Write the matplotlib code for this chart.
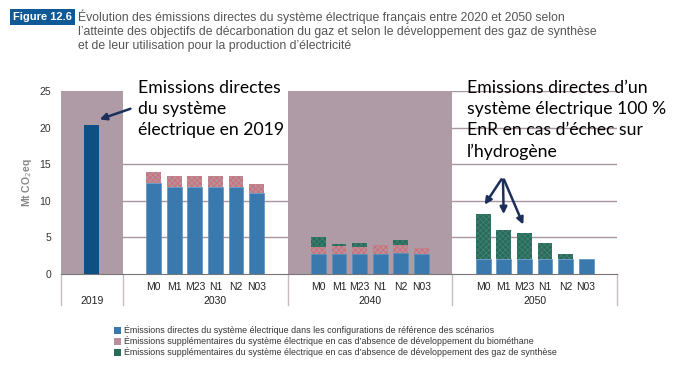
import numpy as np
import matplotlib
matplotlib.use("Agg")
import matplotlib.pyplot as plt
from matplotlib.patches import Rectangle

# data (Mt CO2eq)
years = ["2019", "2030", "2040", "2050"]
scenarios = ["M0", "M1", "M23", "N1", "N2", "N03"]
val_2019 = 20.4
base_2030 = [12.4, 11.9, 11.9, 11.9, 11.9, 11.0]
bio_2030 = [1.6, 1.5, 1.5, 1.5, 1.5, 1.3]
syn_2030 = [0.0, 0.0, 0.0, 0.0, 0.0, 0.0]
base_2040 = [2.7, 2.8, 2.75, 2.75, 2.9, 2.7]
bio_2040 = [1.0, 1.0, 0.95, 1.15, 1.1, 0.9]
syn_2040 = [1.4, 0.3, 0.6, 0.0, 0.6, 0.0]
base_2050 = [2.0, 2.0, 2.0, 2.0, 2.0, 2.0]
bio_2050 = [0.1, 0.1, 0.1, 0.1, 0.1, 0.05]
syn_2050 = [6.05, 3.9, 3.45, 2.1, 0.7, 0.0]
legend_labels = [
    "Émissions directes du système électrique dans les configurations de référence des scénarios",
    "Émissions supplémentaires du système électrique en cas d’absence de développement du biométhane",
    "Émissions supplémentaires du système électrique en cas d’absence de développement des gaz de synthèse",
]

blue = "#3A79AE"
dark_blue = "#0E4F84"
mauve = "#AE9BA6"
grid_c = "#A894A3"
sep_c = "#C9BCC6"
pink_face = "#B98F9E"
pink_hatch = "#D06A6A"
green_face = "#2A6A5C"
green_hatch = "#3F8573"
arrow_c = "#1C2E5A"

plt.rcParams["font.family"] = ["Liberation Sans", "DejaVu Sans"]
plt.rcParams["hatch.linewidth"] = 0.5

fig = plt.figure(figsize=(7, 3.79), dpi=100)
ax = fig.add_axes([61 / 700, 105 / 379, 556 / 700, 183 / 379])

# shaded bands for 2019 and 2040
ax.axvspan(-0.5, 2.5, color=mauve, zorder=1, lw=0)
ax.axvspan(10.5, 18.5, color=mauve, zorder=1, lw=0)
for g in [5, 10, 15, 20, 25]:
    ax.axhline(g, color=grid_c, lw=1, zorder=0.5)
# white box behind the 2019 note (hides gridlines in the 2030 area)
ax.add_patch(Rectangle((2.5, 15.4), 8, 10.5, facecolor="white", edgecolor="none",
                       zorder=0.8, clip_on=False))

w = 0.72
ax.bar([1], [val_2019], width=w, color=dark_blue, zorder=3)

groups = [(4, base_2030, bio_2030, syn_2030),
          (12, base_2040, bio_2040, syn_2040),
          (20, base_2050, bio_2050, syn_2050)]
for start, base, bio, syn in groups:
    x = np.arange(start, start + 6)
    base = np.array(base)
    bio = np.array(bio)
    syn = np.array(syn)
    ax.bar(x, base, width=w, color=blue, edgecolor="#5A8FBE", lw=0.5, zorder=3)
    ax.bar(x, bio, bottom=base, width=w, facecolor=pink_face,
           edgecolor=pink_hatch, hatch="xxxxxx", lw=0, zorder=3)
    ax.bar(x, syn, bottom=base + bio, width=w, facecolor=green_face,
           edgecolor=green_hatch, hatch="xxxxxx", lw=0, zorder=3)

ax.set_xlim(-0.5, 26.5)
ax.set_ylim(0, 25)
ax.set_yticks([0, 5, 10, 15, 20, 25])
ax.tick_params(axis="y", length=0, labelsize=7.5, labelcolor="#333333", pad=7)
ticks = list(range(4, 10)) + list(range(12, 18)) + list(range(20, 26))
ax.set_xticks(ticks)
ax.set_xticklabels(scenarios * 3, fontsize=7.5, color="#222222")
ax.tick_params(axis="x", length=0, pad=6)
for s in ["top", "right", "left"]:
    ax.spines[s].set_visible(False)
ax.spines["bottom"].set_color("#777777")
ax.set_ylabel("Mt CO$_2$eq", fontsize=7.5, color="#888888", fontweight="bold", labelpad=4)

# group labels and separators
for xs in [-0.5, 2.5, 10.5, 18.5, 26.5]:
    ax.plot([xs, xs], [0, -0.17], color=sep_c, lw=1, clip_on=False,
            transform=ax.get_xaxis_transform())
for yr, xc in zip(years, [1, 7, 14.5, 22.5]):
    ax.text(xc, -0.145, yr, transform=ax.get_xaxis_transform(), ha="center",
            va="center", fontsize=7.5, color="#222222")

# annotations
ax.text(3.25, 26.5, "Emissions directes\ndu système\nélectrique en 2019",
        fontsize=12.7, family="Lato", va="top", ha="left", linespacing=1.4, zorder=5)
ax.annotate("", xy=(1.25, 21.0), xytext=(3.0, 22.7),
            arrowprops=dict(arrowstyle="-|>", color=arrow_c, lw=1.8, mutation_scale=10),
            zorder=6)
ax.text(19.2, 26.5, "Emissions directes d’un\nsystème électrique 100 %\nEnR en cas d’échec sur\nl’hydrogène",
        fontsize=12.7, family="Lato", va="top", ha="left", linespacing=1.4, zorder=5)
for tx, ty in [(20.0, 9.15), (21.0, 7.8), (22.0, 6.4)]:
    ax.annotate("", xy=(tx, ty), xytext=(20.96, 13.25),
                arrowprops=dict(arrowstyle="-|>", color=arrow_c, lw=1.8, mutation_scale=10),
                zorder=6)

# title
fig.text(13 / 700, 1 - 17 / 379, "Figure 12.6", fontsize=8, color="white",
         fontweight="bold", va="center", ha="left",
         bbox=dict(facecolor="#0F5A96", edgecolor="none", pad=2.5))
fig.text(78 / 700, 1 - 10 / 379,
         "Évolution des émissions directes du système électrique français entre 2020 et 2050 selon\n"
         "l’atteinte des objectifs de décarbonation du gaz et selon le développement des gaz de synthèse\n"
         "et de leur utilisation pour la production d’électricité",
         fontsize=8.8, color="#555555", va="top", ha="left", linespacing=1.2)

# legend
leg_cols = [blue, pink_face, green_face]
for i, (lab, c) in enumerate(zip(legend_labels, leg_cols)):
    yy = 1 - (330 + 11 * i) / 379
    fig.patches.append(Rectangle((114 / 700, yy - 3.5 / 379), 7 / 700, 7 / 379,
                                 transform=fig.transFigure, facecolor=c,
                                 edgecolor="none"))
    fig.text(124 / 700, yy, lab, fontsize=6.4, color="#333333", va="center", ha="left")

fig.savefig("out.png", dpi=100)
